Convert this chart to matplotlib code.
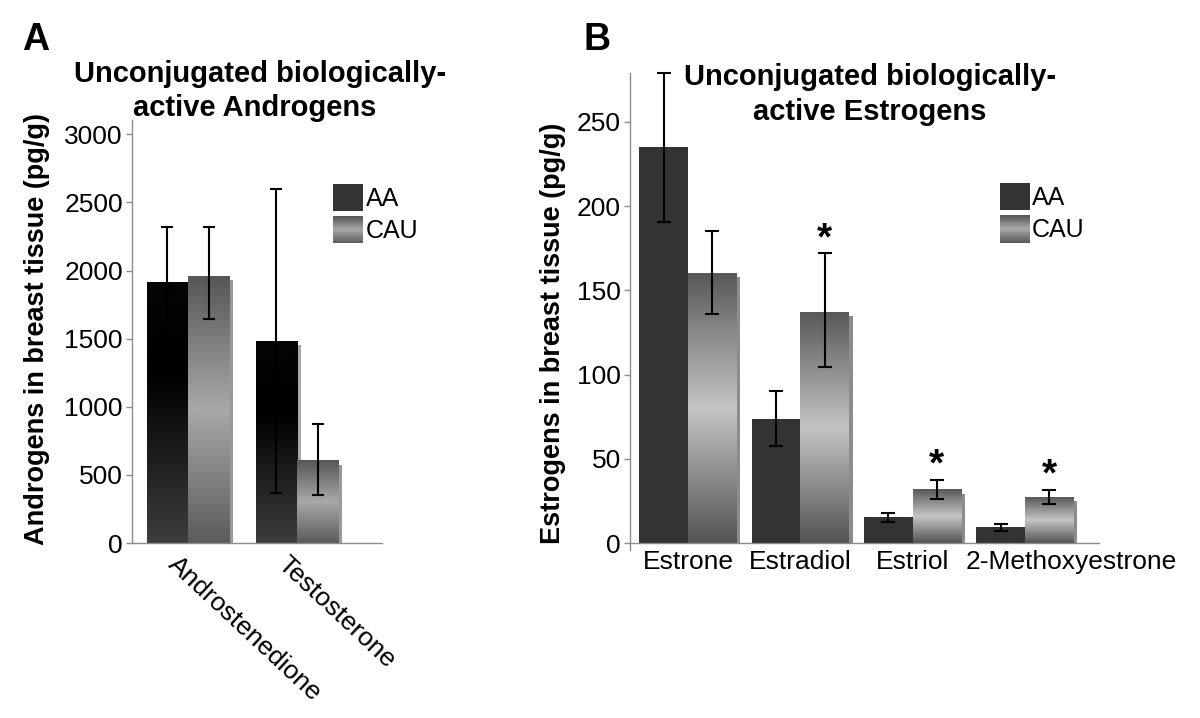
import numpy as np
import matplotlib
matplotlib.use('Agg')
import matplotlib.pyplot as plt
from matplotlib.patches import Rectangle
from matplotlib.legend_handler import HandlerBase
from matplotlib.transforms import ScaledTranslation

plt.rcParams['font.family'] = ['Liberation Sans', 'DejaVu Sans']

# panel A data (pg/g)
androgens = ['Androstenedione', 'Testosterone']
andro_aa = np.array([1915, 1482])
andro_aa_lo = np.array([1526, 367])
andro_aa_hi = np.array([2318, 2597])
andro_cau = np.array([1960, 602])
andro_cau_lo = np.array([1643, 352])
andro_cau_hi = np.array([2318, 873])

# panel B data (pg/g)
estrogens = ['Estrone', 'Estradiol', 'Estriol', '2-Methoxyestrone']
estro_aa = np.array([234.6, 73.5, 15.0, 9.1])
estro_aa_lo = np.array([190.6, 57.5, 12.6, 7.3])
estro_aa_hi = np.array([279.0, 90.5, 18.0, 11.3])
estro_cau = np.array([160.0, 137.0, 31.5, 27.1])
estro_cau_lo = np.array([136.0, 104.5, 26.0, 23.2])
estro_cau_hi = np.array([185.0, 172.0, 37.4, 31.5])
estro_sig = [False, True, True, True]

# gray gradients (position from top, gray level)
grad_a_aa = ([0, 0.35, 1], [0.02, 0.0, 0.24])
grad_a_cau = ([0, 0.5, 1], [0.34, 0.66, 0.36])
grad_b_aa = ([0, 1], [0.2, 0.2])
grad_b_cau = ([0, 0.5, 1], [0.35, 0.77, 0.33])


def gradient(stops, n=100):
    pos, val = stops
    return np.interp(np.linspace(0, 1, n), pos, val)


def fill_gradient(ax, bars, stops):
    col = gradient(stops).reshape(-1, 1)
    for b in bars:
        x0, y0 = b.get_xy()
        w, h = b.get_width(), b.get_height()
        ax.imshow(col, extent=[x0, x0 + w, y0, y0 + h], aspect='auto',
                  cmap='gray', vmin=0, vmax=1, zorder=2,
                  interpolation='bilinear')
        b.set_alpha(0)


class GradHandler(HandlerBase):
    def __init__(self, stops):
        super().__init__()
        self.stops = stops

    def create_artists(self, legend, orig_handle, xdescent, ydescent,
                       width, height, fontsize, trans):
        n = 30
        vals = gradient(self.stops, n)
        arts = []
        for i, v in enumerate(vals):
            y = -ydescent + height * (1 - (i + 1) / n)
            r = Rectangle((-xdescent, y), width, height / n * 1.05,
                          facecolor=str(v), edgecolor='none', transform=trans)
            arts.append(r)
        return arts


def style_axes(ax):
    for s in ['top', 'right']:
        ax.spines[s].set_visible(False)
    for s in ['left', 'bottom']:
        ax.spines[s].set_color('#8c8c8c')
        ax.spines[s].set_linewidth(1.0)
    ax.tick_params(axis='y', length=4.5, width=1, color='#8c8c8c',
                   labelsize=19, pad=2)
    ax.tick_params(axis='x', length=0, labelsize=19)


def add_legend(ax, anchor, stops_aa, stops_cau):
    h = [Rectangle((0, 0), 1, 1), Rectangle((0, 0), 1, 1)]
    ax.legend(h, ['AA', 'CAU'], loc='upper left', bbox_to_anchor=anchor,
              frameon=False, fontsize=18, borderpad=0, borderaxespad=0,
              handlelength=1.2, handleheight=1.3, handletextpad=0.1,
              labelspacing=0.2,
              handler_map={h[0]: GradHandler(stops_aa), h[1]: GradHandler(stops_cau)})


fig = plt.figure(figsize=(12, 7.18), dpi=100)
shift = ScaledTranslation(0.04, -0.04, fig.dpi_scale_trans)

# ---------------- panel A
axA = fig.add_axes([0.11, 0.2437, 0.2083, 0.5891])
xa = np.arange(len(androgens))
wa = 0.38
axA.bar(xa - wa / 2, andro_aa, wa, color='#a8a8a8', zorder=1,
        transform=axA.transData + shift)
axA.bar(xa + wa / 2, andro_cau, wa, color='#999999', zorder=1,
        transform=axA.transData + shift)
b1 = axA.bar(xa - wa / 2, andro_aa, wa, zorder=2)
b2 = axA.bar(xa + wa / 2, andro_cau, wa, zorder=2)
fill_gradient(axA, b1, grad_a_aa)
fill_gradient(axA, b2, grad_a_cau)
axA.errorbar(xa - wa / 2, andro_aa, yerr=[andro_aa - andro_aa_lo, andro_aa_hi - andro_aa],
             fmt='none', ecolor='black', elinewidth=1.5, capsize=4.3, capthick=1.5, zorder=5)
axA.errorbar(xa + wa / 2, andro_cau, yerr=[andro_cau - andro_cau_lo, andro_cau_hi - andro_cau],
             fmt='none', ecolor='black', elinewidth=1.5, capsize=4.3, capthick=1.5, zorder=5)
axA.set_xlim(-0.514, 1.78)
axA.set_ylim(0, 3105)
axA.set_yticks(np.arange(0, 3001, 500))
style_axes(axA)
axA.set_xticks(xa)
axA.set_xticklabels(androgens, rotation=-43, ha='left', va='top',
                    rotation_mode='anchor')
for lab in axA.get_xticklabels():
    lab.set_transform(lab.get_transform() + ScaledTranslation(-0.08, -0.04, fig.dpi_scale_trans))
axA.set_ylabel('Androgens in breast tissue (pg/g)', fontsize=19.5, fontweight='bold')
axA.yaxis.set_label_coords(-0.33, 0.505)
add_legend(axA, (0.804, 0.849), grad_b_aa, grad_a_cau)

# ---------------- panel B
axB = fig.add_axes([0.525, 0.2437, 0.3908, 0.6546])
xb = np.arange(len(estrogens))
wb = 0.432
axB.bar(xb + wb / 2, estro_cau, wb, color='#8c8c8c', zorder=1,
        transform=axB.transData + shift)
c1 = axB.bar(xb - wb / 2, estro_aa, wb, zorder=2)
c2 = axB.bar(xb + wb / 2, estro_cau, wb, zorder=2)
fill_gradient(axB, c1, grad_b_aa)
fill_gradient(axB, c2, grad_b_cau)
axB.errorbar(xb - wb / 2, estro_aa, yerr=[estro_aa - estro_aa_lo, estro_aa_hi - estro_aa],
             fmt='none', ecolor='black', elinewidth=1.5, capsize=5.3, capthick=1.5,
             zorder=5, clip_on=False)
axB.errorbar(xb + wb / 2, estro_cau, yerr=[estro_cau - estro_cau_lo, estro_cau_hi - estro_cau],
             fmt='none', ecolor='black', elinewidth=1.5, capsize=5.3, capthick=1.5, zorder=5)
for i, sig in enumerate(estro_sig):
    if sig:
        axB.annotate('*', (xb[i] + wb / 2, estro_cau_hi[i]), xytext=(0, 3),
                     textcoords='offset points', ha='center', va='baseline',
                     fontsize=28, fontweight='bold', zorder=6)
axB.set_xlim(-0.516, 3.66)
axB.set_ylim(0, 279)
axB.set_yticks(np.arange(0, 251, 50))
style_axes(axB)
axB.spines['left'].set_bounds(-4, 279)
axB.set_xticks(xb)
axB.set_xticklabels(estrogens)
axB.tick_params(axis='x', pad=5)
# the long last label sits right of its bars in the original
label_shift = [0, 0, 0, 0.46]
for lab, dx in zip(axB.get_xticklabels(), label_shift):
    lab.set_transform(lab.get_transform() + ScaledTranslation(dx, 0, fig.dpi_scale_trans))
axB.set_ylabel('Estrogens in breast tissue (pg/g)', fontsize=19.5, fontweight='bold')
axB.yaxis.set_label_coords(-0.136, 0.447)
add_legend(axB, (0.788, 0.766), grad_b_aa, grad_a_cau)

# titles and panel letters
fig.text(260 / 1200, 1 - 82 / 718, 'Unconjugated biologically-', ha='center',
         va='baseline', fontsize=21, fontweight='bold')
fig.text(255 / 1200, 1 - 116 / 718, 'active Androgens', ha='center',
         va='baseline', fontsize=21, fontweight='bold')
fig.text(870 / 1200, 1 - 85 / 718, 'Unconjugated biologically-', ha='center',
         va='baseline', fontsize=21, fontweight='bold')
fig.text(870 / 1200, 1 - 120 / 718, 'active Estrogens', ha='center',
         va='baseline', fontsize=21, fontweight='bold')
fig.text(22 / 1200, 1 - 50 / 718, 'A', ha='left', va='baseline',
         fontsize=27, fontweight='bold')
fig.text(583 / 1200, 1 - 50 / 718, 'B', ha='left', va='baseline',
         fontsize=27, fontweight='bold')

fig.savefig('out.png', dpi=100)
